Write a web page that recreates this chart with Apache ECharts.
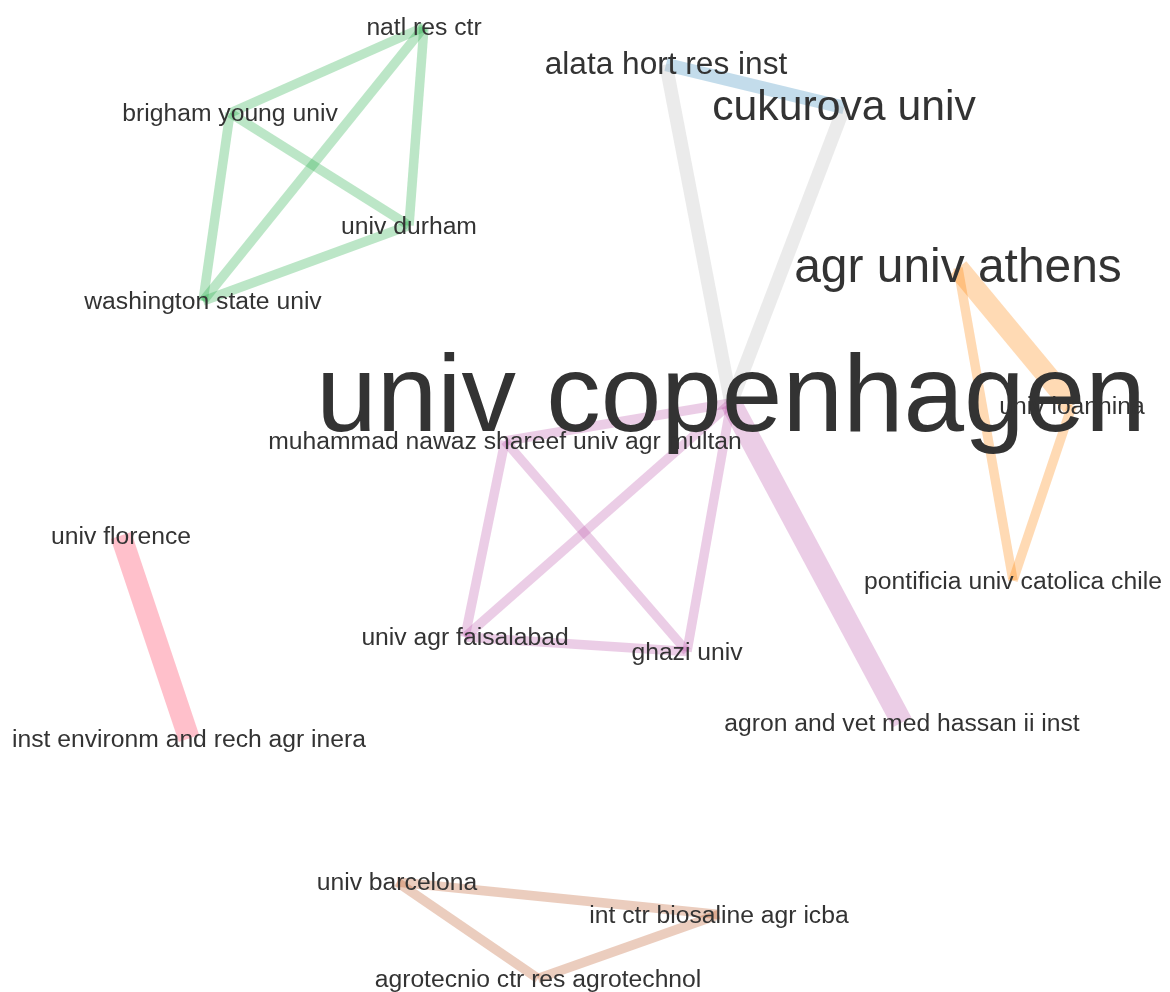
<!DOCTYPE html>
<html>
<head>
<meta charset="utf-8">
<title>collaboration network</title>
<script src="https://cdn.jsdelivr.net/npm/echarts@6/dist/echarts.min.js"></script>
<style>
  html, body { margin: 0; padding: 0; background: #fff; }
  #chart { width: 1170px; height: 992px; }
</style>
</head>
<body>
<div id="chart"></div>
<script>
// institutions (nodes), their layout coordinates, cluster and label weight
const nodeNames = [
  "natl res ctr", "brigham young univ", "univ durham", "washington state univ",
  "alata hort res inst", "cukurova univ",
  "univ copenhagen", "muhammad nawaz shareef univ agr multan", "univ agr faisalabad",
  "ghazi univ", "agron and vet med hassan ii inst",
  "agr univ athens", "univ ioannina", "pontificia univ catolica chile",
  "univ florence", "inst environm and rech agr inera",
  "univ barcelona", "int ctr biosaline agr icba", "agrotecnio ctr res agrotechnol"
];
const nodeX = [424, 230, 409, 203, 666, 844, 731, 505, 465, 687, 902, 958, 1072, 1013, 121, 189, 397, 719, 538];
const nodeY = [27, 113, 225.5, 301, 64.5, 107.5, 403, 441, 637, 651.5, 722.5, 268, 405.5, 580.5, 535.5, 738.5, 882, 914.5, 978.5];
const nodeCluster = [0, 0, 0, 0, 1, 1, 2, 2, 2, 2, 2, 3, 3, 3, 4, 4, 5, 5, 5];
const nodeWeight = [1, 1, 1, 1, 1.28, 1.73, 4.41, 1, 1, 1, 1, 1.94, 1, 1, 1, 1, 1, 1, 1];

// collaborations (edges)
const linkSource = [0, 0, 0, 1, 1, 2, 4, 6, 6, 11, 11, 12, 6, 6, 6, 6, 7, 7, 8, 14, 16, 16, 17];
const linkTarget = [1, 2, 3, 2, 3, 3, 5, 4, 5, 12, 13, 13, 7, 8, 9, 10, 8, 9, 9, 15, 17, 18, 18];
const linkWeight = [1, 1, 1, 1, 1, 1, 2, 2, 2, 4, 1, 1, 1, 1, 1, 4, 1, 1, 1, 4, 1, 1, 1];

const clusterColors = ["rgb(34,172,70)", "rgb(55,138,190)", "rgb(188,88,172)", "rgb(255,132,5)", "rgb(255,45,82)", "rgb(188,88,40)"];
const betweenColor = "rgb(190,190,190)";

const chart = echarts.init(document.getElementById("chart"));

const baseFont = 24.7;
const nodes = nodeNames.map((name, i) => {
  const fs = baseFont * nodeWeight[i];
  return {
    name: name,
    value: [nodeX[i], nodeY[i]],
    label: {
      fontSize: fs,
      offset: [0, 2.5 - 0.04 * fs],
    },
  };
});

const links = linkSource.map((s, i) => {
  const t = linkTarget[i];
  const sameCluster = nodeCluster[s] === nodeCluster[t];
  return {
    source: nodeNames[s],
    target: nodeNames[t],
    lineStyle: {
      width: 5.5 + 4 * linkWeight[i],
      color: sameCluster ? clusterColors[nodeCluster[s]] : betweenColor,
      opacity: 0.3,
    },
  };
});

const option = {
  animation: false,
  backgroundColor: "#ffffff",
  grid: { left: 0, right: 0, top: 0, bottom: 0 },
  xAxis: { type: "value", min: 0, max: 1170, show: false },
  yAxis: { type: "value", min: 0, max: 992, inverse: true, show: false },
  series: [
    {
      type: "graph",
      coordinateSystem: "cartesian2d",
      layout: "none",
      symbol: "circle",
      symbolSize: 1,
      itemStyle: { color: "rgba(0,0,0,0)" },
      label: {
        show: true,
        position: "inside",
        color: "#333333",
        fontFamily: "Liberation Sans, Arial, sans-serif",
      },
      lineStyle: { curveness: 0 },
      emphasis: { disabled: true },
      data: nodes,
      links: links,
    },
  ],
};

chart.setOption(option);
</script>
</body>
</html>
